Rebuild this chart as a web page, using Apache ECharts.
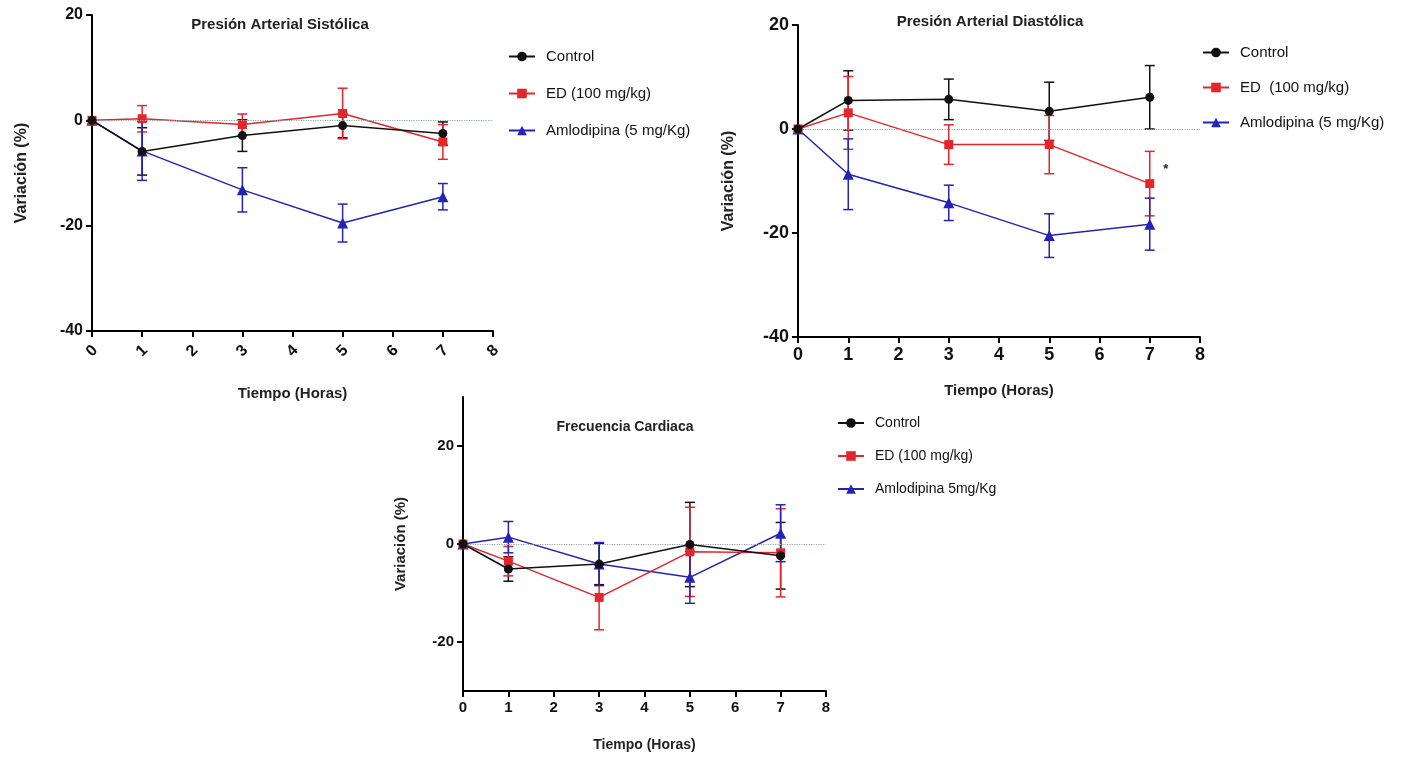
<!DOCTYPE html>
<html><head><meta charset="utf-8">
<script src="https://cdn.jsdelivr.net/npm/echarts@6/dist/echarts.min.js"></script>
<style>html,body{margin:0;padding:0;background:#fff}#c{width:1424px;height:759px}</style>
</head><body><div id="c"></div>
<script>
// ---- data ----
var hours = [0, 1, 3, 5, 7];
var xTicks = [0, 1, 2, 3, 4, 5, 6, 7, 8];
var yTicksPA = [-40, -20, 0, 20];
var yTicksFC = [-20, 0, 20];

var titles = ['Presión Arterial Sistólica', 'Presión Arterial Diastólica', 'Frecuencia Cardiaca'];
var legendS = ['Control', 'ED (100 mg/kg)', 'Amlodipina (5 mg/Kg)'];
var legendD = ['Control', 'ED  (100 mg/kg)', 'Amlodipina (5 mg/Kg)'];
var legendF = ['Control', 'ED (100 mg/kg)', 'Amlodipina 5mg/Kg'];

// Systolic
var ctrlS = [0, -5.9, -2.9, -1.0, -2.5];
var ctrlSerr = [0, 4.5, 3.0, 2.3, 2.2];
var edS = [0, 0.3, -0.8, 1.3, -4.1];
var edSerr = [0, 2.5, 2.0, 4.8, 3.3];
var amlS = [0, -5.8, -13.2, -19.5, -14.5];
var amlSerr = [0, 5.6, 4.2, 3.6, 2.5];

// Diastolic
var ctrlD = [0, 5.5, 5.7, 3.4, 6.1];
var ctrlDerr = [0, 5.7, 3.9, 5.6, 6.1];
var edD = [0, 3.1, -3.0, -3.0, -10.5];
var edDerr = [0, 7.0, 3.8, 5.6, 6.2];
var amlD = [0, -8.7, -14.2, -20.5, -18.3];
var amlDerr = [0, 6.8, 3.4, 4.2, 5.0];
var sigIndexD = 4; // "*" next to ED at 7 h

// Heart rate
var ctrlF = [0, -5.1, -4.1, -0.1, -2.4];
var ctrlFerr = [0, 2.5, 4.2, 8.6, 6.8];
var edF = [0, -3.5, -10.9, -1.6, -1.8];
var edFerr = [0, 3.0, 6.6, 9.1, 9.0];
var amlF = [0, 1.4, -4.1, -6.8, 2.2];
var amlFerr = [0, 3.2, 4.4, 5.3, 5.8];

// ---- styling ----
var BLACK = '#111111', RED = '#e3262b', BLUE = '#2323b8';
var FONT = '"Liberation Sans", Arial, sans-serif';
var NARROW = '"Liberation Sans Narrow", "Liberation Sans", Arial, sans-serif';

function pts(ys) { return hours.map(function (h, i) { return [h, ys[i]]; }); }
function errPts(ys, es) {
  var out = [];
  hours.forEach(function (h, i) { if (es[i] > 0) out.push([h, ys[i] - es[i], ys[i] + es[i]]); });
  return out;
}
function errRender(color) {
  return function (params, api) {
    var x = api.value(0), lo = api.value(1), hi = api.value(2);
    var a = api.coord([x, hi]), b = api.coord([x, lo]), w = 5;
    var st = { stroke: color, lineWidth: 1.5 };
    return { type: 'group', children: [
      { type: 'line', shape: { x1: a[0], y1: a[1], x2: b[0], y2: b[1] }, style: st },
      { type: 'line', shape: { x1: a[0] - w, y1: a[1], x2: a[0] + w, y2: a[1] }, style: st },
      { type: 'line', shape: { x1: b[0] - w, y1: b[1], x2: b[0] + w, y2: b[1] }, style: st }
    ]};
  };
}

var grids = [
  { left: 92, top: 15, width: 401, height: 316 },
  { left: 798, top: 25, width: 402, height: 312 },
  { left: 463, top: 397, width: 363, height: 294 }
];

function xAxis(gi, rotate, fs, ff, gap, nfs, margin) {
  var lab = { rotate: rotate, fontFamily: ff, fontWeight: 'bold', fontSize: fs, color: '#111', margin: margin, customValues: xTicks };
  if (rotate) { lab.align = 'center'; lab.verticalAlign = 'middle'; }
  return {
    type: 'value', gridIndex: gi, min: 0, max: 8, interval: 1,
    name: 'Tiempo (Horas)', nameLocation: 'middle', nameGap: gap,
    nameTextStyle: { fontFamily: FONT, fontWeight: 'bold', fontSize: nfs, color: '#222' },
    axisLine: { show: true, onZero: false, lineStyle: { color: '#000', width: 2 } },
    axisTick: { show: true, length: 6, lineStyle: { color: '#000', width: 2 }, customValues: xTicks },
    axisLabel: lab,
    splitLine: { show: false }
  };
}
function yAxis(gi, min, max, ticks, fs, ff, gap, nfs) {
  return {
    type: 'value', gridIndex: gi, min: min, max: max, interval: 20,
    name: 'Variación (%)', nameLocation: 'middle', nameGap: gap, nameRotate: 90,
    nameTextStyle: { fontFamily: FONT, fontWeight: 'bold', fontSize: nfs, color: '#222' },
    axisLine: { show: true, onZero: false, lineStyle: { color: '#000', width: 2 } },
    axisTick: { show: true, length: 6, lineStyle: { color: '#000', width: 2 }, customValues: ticks },
    axisLabel: { fontFamily: ff, fontWeight: 'bold', fontSize: fs, color: '#111', margin: 9, customValues: ticks },
    splitLine: { show: false }
  };
}

var series = [];
function addGroup(gi, names, sets) {
  var colors = [BLACK, RED, BLUE];
  var symbols = ['circle', 'rect', 'triangle'];
  var sizes = [9, 9, 11];
  sets.forEach(function (s, k) {
    series.push({
      type: 'custom', xAxisIndex: gi, yAxisIndex: gi, renderItem: errRender(colors[k]),
      data: errPts(s[0], s[1]), encode: { x: 0, y: [1, 2] }, silent: true, z: 2
    });
  });
  sets.forEach(function (s, k) {
    var data = pts(s[0]);
    if (s[2] !== undefined) {
      data[s[2]] = { value: data[s[2]], label: { show: true, formatter: '*', position: 'right', offset: [4, -14], fontSize: 13, fontWeight: 'bold', color: '#222' } };
    }
    var ser = {
      type: 'line', name: names[k], xAxisIndex: gi, yAxisIndex: gi, data: data,
      symbol: symbols[k], symbolSize: sizes[k], showAllSymbol: true,
      lineStyle: { color: colors[k], width: 1.5 }, itemStyle: { color: colors[k] },
      z: 3 + (2 - k), animation: false
    };
    if (k === 0) {
      ser.markLine = { silent: true, symbol: 'none', animation: false, label: { show: false },
        lineStyle: { type: 'dotted', color: '#9aa', width: 1.2 }, data: [{ yAxis: 0 }] };
    }
    series.push(ser);
  });
}
addGroup(0, legendS, [[ctrlS, ctrlSerr], [edS, edSerr], [amlS, amlSerr]]);
addGroup(1, legendD, [[ctrlD, ctrlDerr], [edD, edDerr, sigIndexD], [amlD, amlDerr]]);
addGroup(2, legendF, [[ctrlF, ctrlFerr], [edF, edFerr], [amlF, amlFerr]]);

function legend(names, left, top, gap, fs) {
  return { orient: 'vertical', left: left, top: top, itemGap: gap, itemWidth: 26, itemHeight: 12,
    data: names, selectedMode: false,
    textStyle: { fontFamily: NARROW, fontSize: fs, color: '#111', padding: [0, 0, 0, 6] } };
}
function title(text, left, top, fs) {
  return { text: text, left: left, top: top, textAlign: 'center',
    textStyle: { fontFamily: FONT, fontWeight: 'bold', fontSize: fs, color: '#222' } };
}

var option = {
  animation: false,
  backgroundColor: '#fff',
  title: [title(titles[0], 275, 12, 15), title(titles[1], 985, 9, 15), title(titles[2], 620, 415, 14)],
  legend: [legend(legendS, 503, 44, 22, 15), legend(legendD, 1197, 40, 20, 15), legend(legendF, 832, 411, 19, 14)],
  grid: grids,
  xAxis: [xAxis(0, 45, 16, FONT, 55, 15, 20), xAxis(1, 0, 18, NARROW, 46, 15, 9), xAxis(2, 0, 15, FONT, 47, 14, 9)],
  yAxis: [yAxis(0, -40, 20, yTicksPA, 16, FONT, 62, 16), yAxis(1, -40, 20, yTicksPA, 18, NARROW, 61, 16), yAxis(2, -30, 30, yTicksFC, 15, FONT, 55, 15)],
  series: series
};
var chart = echarts.init(document.getElementById('c'));
chart.setOption(option);
</script></body></html>
